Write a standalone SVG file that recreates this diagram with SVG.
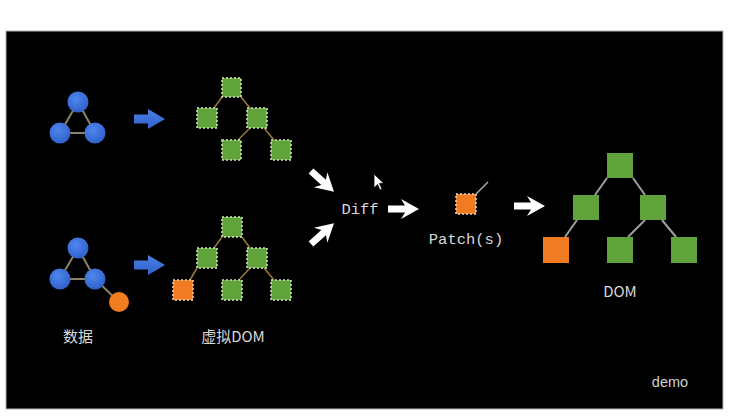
<svg xmlns="http://www.w3.org/2000/svg" width="736" height="420" viewBox="0 0 736 420">
<defs>
<radialGradient id="blue" cx="0.4" cy="0.35" r="0.7">
<stop offset="0" stop-color="#4f86ee"/>
<stop offset="1" stop-color="#2f5fc8"/>
</radialGradient>
<linearGradient id="barr" x1="0" y1="0" x2="0" y2="1">
<stop offset="0" stop-color="#4a80e4"/>
<stop offset="1" stop-color="#2f62cc"/>
</linearGradient>
<path id="blueArrow" d="M0,-4.5 L14,-4.5 L14,-10 L31,0 L14,10 L14,4.5 L0,4.5 Z" fill="url(#barr)"/>
<path id="whiteArrow" d="M0,-3.5 L17,-3.5 L13,-10 L31,0 L13,10 L17,3.5 L0,3.5 Z" fill="#ffffff"/>
</defs>
<style>
.vn{fill:#5fa33a;stroke:#d8e8c0;stroke-width:1.5;stroke-dasharray:2 2}
.vo{fill:#f07b22;stroke:#f4d8b8;stroke-width:1.5;stroke-dasharray:2 2}
.dn{fill:#5fa33a}
.do{fill:#f07b22}
.bc{fill:url(#blue)}
.oc{fill:#f27c20}
.cl{stroke:#8c8266;stroke-width:2;fill:none}
.vl{stroke:#9a7a34;stroke-width:1.5;fill:none}
.dl{stroke:#a0a0a0;stroke-width:2;fill:none}
.lbl{font-family:"Noto Sans CJK SC","Liberation Sans",sans-serif;font-size:15px;fill:#d8d8d8;text-anchor:middle}
.mono{font-family:"Liberation Mono","DejaVu Sans Mono",monospace;font-size:15.5px;fill:#d8d8d8;text-anchor:middle}
</style>
<rect x="0" y="0" width="736" height="420" fill="#ffffff"/>
<rect x="6" y="31" width="717" height="378" fill="#000000" stroke="#b0b0b0" stroke-width="1"/>

<g id="connectors">
<line class="cl" x1="78" y1="102" x2="60" y2="133"/>
<line class="cl" x1="78" y1="102" x2="95" y2="133"/>
<line class="cl" x1="60" y1="133" x2="95" y2="133"/>
<line class="cl" x1="78" y1="248" x2="60" y2="279"/>
<line class="cl" x1="78" y1="248" x2="95" y2="279"/>
<line class="cl" x1="60" y1="279" x2="95" y2="279"/>
<line class="cl" x1="95" y1="279" x2="119" y2="302"/>
<line class="vl" x1="222" y1="97" x2="214" y2="108"/>
<line class="vl" x1="241" y1="97" x2="250" y2="108"/>
<line class="vl" x1="250" y1="128" x2="238" y2="140"/>
<line class="vl" x1="264" y1="128" x2="274" y2="140"/>
<line class="vl" x1="222" y1="237" x2="214" y2="248"/>
<line class="vl" x1="242" y1="237" x2="250" y2="248"/>
<line class="vl" x1="197" y1="268" x2="190" y2="280"/>
<line class="vl" x1="250" y1="268" x2="239" y2="280"/>
<line class="vl" x1="264" y1="268" x2="274" y2="280"/>
<line class="dl" x1="607" y1="178" x2="595" y2="195"/>
<line class="dl" x1="633" y1="178" x2="645" y2="195"/>
<line class="dl" x1="577" y1="220" x2="565" y2="237"/>
<line class="dl" x1="645" y1="220" x2="628" y2="237"/>
<line class="dl" x1="662" y1="220" x2="676" y2="237"/>
<line x1="476" y1="194" x2="488" y2="182" stroke="#bbbbbb" stroke-width="1.2"/>
<use href="#blueArrow" x="134" y="119"/>
<use href="#blueArrow" x="134" y="265"/>
<use href="#whiteArrow" transform="translate(311,171) rotate(42)"/>
<use href="#whiteArrow" transform="translate(311,244) rotate(-42)"/>
<use href="#whiteArrow" x="388" y="209"/>
<use href="#whiteArrow" x="514" y="206"/>
</g>

<g id="data-top">
<circle class="bc" cx="78" cy="102" r="10.5"/>
<circle class="bc" cx="60" cy="133" r="10.5"/>
<circle class="bc" cx="95" cy="133" r="10.5"/>
</g>
<g id="data-bottom">
<circle class="bc" cx="78" cy="248" r="10.5"/>
<circle class="bc" cx="60" cy="279" r="10.5"/>
<circle class="bc" cx="95" cy="279" r="10.5"/>
<circle class="oc" cx="119" cy="302" r="10"/>
<text class="lbl" x="78" y="342">数据</text>
</g>

<g id="vdom-top">
<rect class="vn" x="222" y="78" width="19" height="19"/>
<rect class="vn" x="197" y="108" width="20" height="20"/>
<rect class="vn" x="247" y="108" width="20" height="20"/>
<rect class="vn" x="222" y="140" width="19" height="20"/>
<rect class="vn" x="271" y="140" width="20" height="20"/>
</g>
<g id="vdom-bottom">
<rect class="vn" x="222" y="217" width="20" height="20"/>
<rect class="vn" x="197" y="248" width="20" height="20"/>
<rect class="vn" x="247" y="248" width="20" height="20"/>
<rect class="vo" x="173" y="280" width="20" height="20"/>
<rect class="vn" x="222" y="280" width="20" height="20"/>
<rect class="vn" x="271" y="280" width="20" height="20"/>
<text class="lbl" x="233" y="342">虚拟DOM</text>
</g>

<g id="diff">
<text class="mono" x="360" y="214">Diff</text>
</g>

<g id="patch">
<rect class="vo" x="456" y="194" width="20" height="20"/>
<text class="mono" x="466" y="244">Patch(s)</text>
</g>

<g id="dom">
<rect class="dn" x="607" y="153" width="26" height="25"/>
<rect class="dn" x="573" y="195" width="26" height="25"/>
<rect class="dn" x="640" y="195" width="26" height="25"/>
<rect class="do" x="543" y="237" width="26" height="26"/>
<rect class="dn" x="607" y="237" width="26" height="26"/>
<rect class="dn" x="671" y="237" width="26" height="26"/>
<text class="lbl" x="620" y="297">DOM</text>
</g>

<path d="M374,174 L374,188 L377.5,184.5 L380,190 L382,189 L379.5,183.5 L384,183.5 Z" fill="#ffffff" stroke="#000000" stroke-width="0.8"/>

<text x="670" y="387" font-family="Liberation Sans,sans-serif" font-size="14.5" fill="#d0d0d0" text-anchor="middle">demo</text>
</svg>
